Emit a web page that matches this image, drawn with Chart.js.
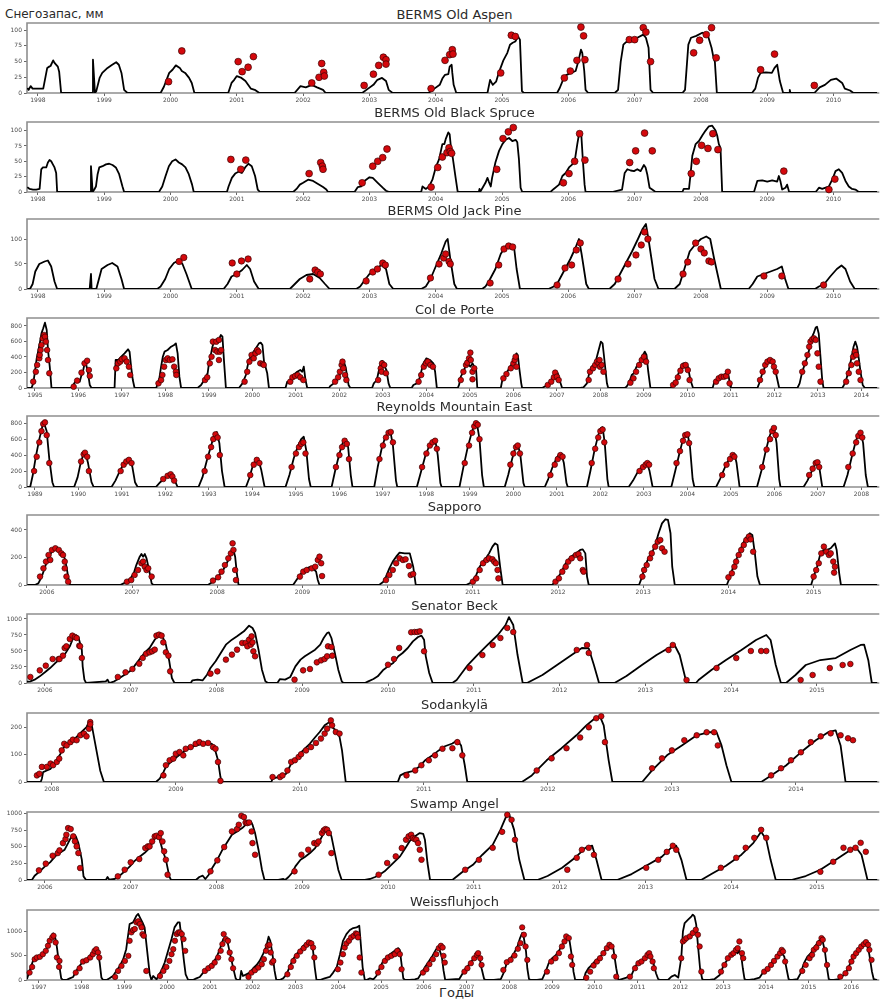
<!DOCTYPE html>
<html>
<head>
<meta charset="utf-8">
<script src="https://cdn.jsdelivr.net/npm/chart.js@4.4.0/dist/chart.umd.min.js"></script>
<style>
  body { margin: 0; background: #fff; }
  #wrap { position: relative; width: 882px; height: 1000px; overflow: hidden; font-family: "DejaVu Sans", sans-serif; background: #fff; }
  #wrap canvas { position: absolute; left: 0; }
  .ttl { position: absolute; left: 27px; width: 855px; text-align: center; font-size: 13px; line-height: 14px; color: #2a2a2a; }
  .lbl { position: absolute; font-size: 12px; line-height: 14px; color: #2a2a2a; }
</style>
</head>
<body>
<div id="wrap">
  <div class="lbl" style="left:5px;top:7px;">Снегозапас, мм</div>
  <div class="lbl" style="left:439px;top:986px;font-size:13px;">Годы</div>
</div>
<script>
// ---- tick labels ----
const bermsYears = [1998,1999,2000,2001,2002,2003,2004,2005,2006,2007,2008,2009,2010];
const colYears = [1995,1996,1997,1998,1999,2000,2001,2002,2003,2004,2005,2006,2007,2008,2009,2010,2011,2012,2013,2014];
const reynoldsYears = [1989,1990,1991,1992,1993,1994,1995,1996,1997,1998,1999,2000,2001,2002,2003,2004,2005,2006,2007,2008];
const sapporoYears = [2006,2007,2008,2009,2010,2011,2012,2013,2014,2015];
const coloradoYears = [2006,2007,2008,2009,2010,2011,2012,2013,2014,2015];
const sodankylaYears = [2008,2009,2010,2011,2012,2013,2014];
const weissYears = [1997,1998,1999,2000,2001,2002,2003,2004,2005,2006,2007,2008,2009,2010,2011,2012,2013,2014,2015,2016];
const ticks100 = [0,25,50,75,100];
const ticksJack = [0,50,100];
const ticks800 = [0,200,400,600,800];
const ticks400 = [0,200,400];
const ticks1000 = [0,250,500,750,1000];
const ticks200 = [0,100,200];
const ticksWeiss = [0,500,1000];

// ---- BERMS Old Aspen: simulated SWE (line) and snow survey (dots), mm ----
const aspenModel = [[1997.84,8],[1997.86,5],[1997.89,11],[1997.92,7],[1998.08,7],[1998.14,40],[1998.17,42],[1998.19,43],[1998.23,52],[1998.25,48],[1998.3,42],[1998.32,34],[1998.35,0],
[1998.82,0],[1998.83,53],[1998.86,0],[1998.88,3],[1998.93,24],[1998.97,32],[1999.05,40],[1999.12,45],[1999.18,49],[1999.22,45],[1999.26,32],[1999.3,5],[1999.35,0],
[1999.85,0],[1999.9,10],[1999.94,21],[1999.98,32],[2000.03,37],[2000.08,44],[2000.14,40],[2000.17,35],[2000.22,32],[2000.28,24],[2000.32,16],[2000.36,0],
[2000.87,0],[2000.92,16],[2000.96,21],[2001.0,27],[2001.07,24],[2001.13,19],[2001.17,13],[2001.21,7],[2001.27,5],[2001.34,0],
[2001.87,0],[2001.96,11],[2002.04,9],[2002.13,13],[2002.21,9],[2002.3,5],[2002.34,0],
[2002.89,0],[2002.98,7],[2003.06,13],[2003.12,21],[2003.19,24],[2003.25,19],[2003.29,5],[2003.35,0],
[2003.89,0],[2003.98,7],[2004.06,13],[2004.1,23],[2004.14,29],[2004.19,30],[2004.21,42],[2004.24,45],[2004.25,32],[2004.27,13],[2004.31,0],
[2004.78,0],[2004.82,21],[2004.86,13],[2004.91,18],[2004.95,32],[2005.02,52],[2005.08,64],[2005.12,77],[2005.16,80],[2005.2,82],[2005.24,90],[2005.27,85],[2005.3,3],[2005.33,0],
[2005.83,0],[2005.87,8],[2005.92,21],[2005.96,28],[2006.04,32],[2006.11,35],[2006.15,50],[2006.19,69],[2006.21,64],[2006.24,35],[2006.26,5],[2006.3,0],
[2006.7,0],[2006.75,5],[2006.79,50],[2006.83,77],[2006.87,81],[2006.96,83],[2007.04,88],[2007.13,93],[2007.17,88],[2007.21,72],[2007.24,5],[2007.28,0],
[2007.72,0],[2007.76,5],[2007.81,77],[2007.85,88],[2007.93,91],[2008.02,96],[2008.1,93],[2008.16,72],[2008.19,56],[2008.21,50],[2008.24,0],
[2008.77,0],[2008.82,7],[2008.86,24],[2008.9,32],[2008.98,33],[2009.07,32],[2009.11,40],[2009.15,45],[2009.19,19],[2009.24,0],[2009.33,0],[2009.34,5],[2009.35,0],
[2009.71,0],[2009.79,9],[2009.87,13],[2009.96,21],[2010.04,23],[2010.13,16],[2010.17,7],[2010.25,4],[2010.3,0],[2010.66,0]];
const aspenObs = [[1999.97,18],[2000.17,67],[2001.02,50],[2001.08,34],[2001.17,41],[2001.25,58],[2002.13,16],[2002.24,25],[2002.28,47],[2002.31,33],[2002.32,27],
[2002.92,12],[2003.06,30],[2003.14,44],[2003.21,57],[2003.25,53],[2003.25,46],[2003.93,7],[2004.14,52],[2004.21,61],[2004.25,69],[2004.26,62],
[2004.98,32],[2005.14,92],[2005.2,90],[2005.94,24],[2006.03,35],[2006.13,52],[2006.19,105],[2006.23,91],[2006.25,53],
[2006.92,85],[2007.0,85],[2007.13,104],[2007.17,97],[2007.24,50],[2007.89,64],[2007.98,84],[2008.08,93],[2008.16,104],[2008.23,56],[2008.9,37],[2009.11,62],[2009.71,12]];

// ---- BERMS Old Black Spruce ----
const spruceModel = [[1997.84,8],[1997.875,5],[1997.925,4],[1997.975,4],[1998.025,5],[1998.05,37],[1998.075,40],[1998.125,40],[1998.15,48],[1998.175,52],[1998.2,50],[1998.225,45],[1998.25,40],[1998.275,31],[1998.29,0],
[1998.79,0],[1998.8,42],[1998.825,0],[1998.85,4],[1998.875,9],[1998.9,29],[1998.925,40],[1998.975,42],[1999.025,45],[1999.075,46],[1999.125,44],[1999.175,40],[1999.225,29],[1999.275,9],[1999.3,0],
[1999.825,0],[1999.875,9],[1999.925,26],[1999.975,42],[2000.025,50],[2000.075,53],[2000.125,48],[2000.175,45],[2000.225,40],[2000.275,29],[2000.325,12],[2000.35,0],
[2000.85,0],[2000.875,9],[2000.925,23],[2000.975,30],[2001.025,33],[2001.075,31],[2001.125,40],[2001.175,46],[2001.225,42],[2001.275,26],[2001.315,4],[2001.35,0],
[2001.85,0],[2001.9,5],[2001.95,12],[2002.0,15],[2002.075,20],[2002.15,18],[2002.225,13],[2002.3,8],[2002.35,4],[2002.375,0],
[2002.775,0],[2002.825,8],[2002.875,9],[2002.925,18],[2003.0,24],[2003.05,23],[2003.125,15],[2003.2,7],[2003.25,2],[2003.3,0],
[2003.78,0],[2003.8,9],[2003.85,5],[2003.9,9],[2003.95,20],[2004.0,40],[2004.05,53],[2004.1,78],[2004.13,78],[2004.15,86],[2004.19,97],[2004.21,94],[2004.23,72],[2004.25,61],[2004.3,23],[2004.33,1],[2004.35,0],
[2004.65,0],[2004.66,5],[2004.67,0],[2004.75,15],[2004.78,23],[2004.8,17],[2004.83,9],[2004.85,23],[2004.9,48],[2004.955,67],[2005.005,78],[2005.055,85],[2005.105,88],[2005.155,83],[2005.205,85],[2005.23,81],[2005.255,53],[2005.28,7],[2005.305,0],
[2005.73,0],[2005.78,5],[2005.86,12],[2005.91,26],[2005.96,31],[2006.01,40],[2006.06,45],[2006.1,53],[2006.135,78],[2006.16,94],[2006.175,97],[2006.195,94],[2006.22,50],[2006.245,12],[2006.26,0],
[2006.66,0],[2006.81,4],[2006.85,31],[2006.89,37],[2006.94,35],[2006.99,34],[2007.04,37],[2007.09,34],[2007.14,44],[2007.165,40],[2007.19,29],[2007.225,7],[2007.265,4],[2007.315,0],
[2007.72,0],[2007.74,5],[2007.82,5],[2007.845,31],[2007.87,59],[2007.92,78],[2007.97,83],[2008.02,92],[2008.07,100],[2008.12,107],[2008.17,108],[2008.22,100],[2008.245,92],[2008.27,78],[2008.295,72],[2008.32,0],
[2008.8,0],[2008.825,9],[2008.85,18],[2008.925,19],[2009.0,17],[2009.075,19],[2009.15,17],[2009.175,26],[2009.2,17],[2009.225,4],[2009.275,7],[2009.3,12],[2009.33,0],
[2009.73,0],[2009.76,4],[2009.78,7],[2009.83,5],[2009.88,7],[2009.93,9],[2009.98,20],[2010.03,34],[2010.08,37],[2010.13,31],[2010.18,18],[2010.23,9],[2010.28,5],[2010.33,4],[2010.38,0],[2010.66,0]];
const spruceObs = [[2000.91,53],[2001.06,37],[2001.135,52],[2002.09,30],[2002.265,48],[2002.29,42],[2002.3,37],[2002.89,15],[2003.05,42],[2003.125,50],[2003.2,56],[2003.265,70],
[2003.93,8],[2004.03,40],[2004.1,57],[2004.17,64],[2004.2,72],[2004.22,66],[2004.24,63],[2004.92,37],[2005.015,87],[2005.095,98],[2005.17,105],
[2005.925,15],[2006.01,30],[2006.095,50],[2006.17,95],[2006.25,52],[2006.925,48],[2007.015,67],[2007.15,96],[2007.266,67],
[2007.854,30],[2007.93,50],[2008.01,76],[2008.106,71],[2008.18,95],[2008.256,69],[2009.25,34],[2009.93,4],[2010.02,21]];

// ---- BERMS Old Jack Pine ----
const jackModel = [[1997.84,0],[1997.88,0],[1997.92,10],[1997.96,35],[1998.02,50],[1998.1,55],[1998.15,57],[1998.2,45],[1998.25,15],[1998.29,0],
[1998.78,0],[1998.8,30],[1998.81,0],[1998.88,0],[1998.92,20],[1998.96,40],[1999.05,48],[1999.12,52],[1999.2,45],[1999.26,20],[1999.3,0],
[1999.8,0],[1999.85,5],[1999.92,20],[1999.98,40],[2000.05,52],[2000.12,57],[2000.18,50],[2000.24,30],[2000.32,0],
[2000.8,0],[2000.86,10],[2000.92,25],[2001.0,30],[2001.08,38],[2001.15,48],[2001.2,40],[2001.26,15],[2001.33,0],
[2001.8,0],[2001.86,8],[2001.95,20],[2002.05,28],[2002.15,30],[2002.25,22],[2002.33,10],[2002.4,0],
[2002.8,0],[2002.86,5],[2002.93,18],[2003.0,30],[2003.1,40],[2003.18,48],[2003.25,40],[2003.3,10],[2003.36,0],
[2003.78,0],[2003.85,5],[2003.92,20],[2004.0,45],[2004.08,70],[2004.15,95],[2004.18,100],[2004.22,60],[2004.28,10],[2004.32,0],
[2004.7,0],[2004.75,5],[2004.8,15],[2004.9,40],[2004.98,70],[2005.05,85],[2005.12,90],[2005.18,85],[2005.22,40],[2005.27,0],
[2005.7,0],[2005.78,5],[2005.85,15],[2005.95,40],[2006.03,60],[2006.1,80],[2006.16,100],[2006.2,70],[2006.27,10],[2006.31,0],
[2006.62,0],[2006.7,10],[2006.78,30],[2006.88,55],[2006.96,75],[2007.05,100],[2007.12,120],[2007.17,130],[2007.22,90],[2007.3,20],[2007.36,0],
[2007.6,0],[2007.68,10],[2007.75,40],[2007.83,75],[2007.92,90],[2008.0,100],[2008.08,105],[2008.14,100],[2008.2,60],[2008.3,0],
[2008.72,0],[2008.78,10],[2008.85,25],[2008.95,30],[2009.05,35],[2009.15,40],[2009.22,45],[2009.27,20],[2009.32,0],
[2009.72,0],[2009.78,5],[2009.86,10],[2009.95,25],[2010.05,40],[2010.12,47],[2010.18,40],[2010.25,15],[2010.32,0],[2010.66,0]];
const jackObs = [[2000.13,55],[2000.2,63],[2000.93,52],[2001.0,30],[2001.07,56],[2001.17,60],[2002.1,20],[2002.18,38],[2002.22,34],[2002.26,30],
[2002.95,16],[2003.05,34],[2003.12,40],[2003.2,52],[2003.24,48],[2003.92,22],[2004.05,50],[2004.12,62],[2004.15,70],[2004.2,55],[2004.22,50],
[2004.82,12],[2004.95,48],[2005.03,80],[2005.1,86],[2005.16,84],[2005.83,8],[2005.95,42],[2006.05,48],[2006.12,78],[2006.18,92],
[2006.75,20],[2006.9,50],[2007.02,68],[2007.1,88],[2007.15,114],[2007.2,100],[2007.73,30],[2007.8,54],[2007.92,92],[2008.0,80],[2008.05,72],[2008.12,56],[2008.16,54],
[2008.95,26],[2009.22,26],[2009.85,8]];

// ---- Col de Porte ----
const colModel = [[1994.82,0],[1994.92,0],[1994.96,60],[1995.0,210],[1995.04,383],[1995.08,490],[1995.11,576],[1995.15,705],[1995.19,770],[1995.23,843],[1995.27,748],[1995.3,490],[1995.34,275],[1995.38,0],
[1995.84,0],[1995.88,39],[1995.95,103],[1996.03,82],[1996.07,168],[1996.11,232],[1996.15,340],[1996.18,297],[1996.22,190],[1996.26,39],[1996.3,0],
[1996.83,0],[1996.855,361],[1996.91,361],[1996.985,404],[1997.06,447],[1997.14,499],[1997.175,469],[1997.21,275],[1997.25,103],[1997.29,0],
[1997.79,0],[1997.82,60],[1997.86,125],[1997.9,275],[1997.94,404],[1997.98,469],[1998.05,490],[1998.13,533],[1998.2,555],[1998.24,576],[1998.28,447],[1998.32,146],[1998.36,0],
[1998.74,0],[1998.82,39],[1998.89,103],[1998.97,190],[1999.0,318],[1999.05,447],[1999.08,533],[1999.12,598],[1999.2,620],[1999.24,640],[1999.275,684],[1999.31,662],[1999.35,318],[1999.39,0],
[1999.69,0],[1999.77,60],[1999.85,168],[1999.885,275],[1999.92,361],[2000.0,447],[2000.08,512],[2000.15,576],[2000.19,585],[2000.23,555],[2000.27,318],[2000.3,275],[2000.34,190],[2000.38,0],
[2000.76,0],[2000.8,82],[2000.84,60],[2000.88,125],[2000.95,168],[2001.03,210],[2001.1,232],[2001.145,210],[2001.18,275],[2001.22,103],[2001.26,0],
[2001.76,0],[2001.79,26],[2001.87,60],[2001.95,103],[2002.02,190],[2002.06,297],[2002.1,340],[2002.14,275],[2002.18,146],[2002.21,39],[2002.25,0],
[2002.75,0],[2002.79,60],[2002.86,103],[2002.9,210],[2002.96,340],[2002.99,350],[2003.04,275],[2003.08,232],[2003.13,60],[2003.17,0],
[2003.66,0],[2003.7,39],[2003.78,60],[2003.83,103],[2003.88,210],[2003.93,318],[2004.0,383],[2004.08,361],[2004.16,318],[2004.2,210],[2004.24,0],
[2004.72,0],[2004.75,39],[2004.79,146],[2004.85,210],[2004.91,297],[2004.94,318],[2005.01,275],[2005.06,318],[2005.1,275],[2005.14,254],[2005.17,0],
[2005.71,0],[2005.745,103],[2005.82,168],[2005.9,254],[2005.97,318],[2006.03,383],[2006.07,447],[2006.1,426],[2006.14,232],[2006.18,60],[2006.2,0],
[2006.66,0],[2006.74,26],[2006.81,60],[2006.87,103],[2006.93,168],[2006.96,210],[2007.02,190],[2007.06,103],[2007.12,0],
[2007.54,0],[2007.61,9],[2007.69,60],[2007.75,210],[2007.8,275],[2007.88,318],[2007.93,426],[2007.98,533],[2008.01,598],[2008.05,576],[2008.08,426],[2008.1,318],[2008.15,60],[2008.18,0],
[2008.56,0],[2008.6,17],[2008.66,69],[2008.72,168],[2008.77,190],[2008.83,275],[2008.91,340],[2008.98,426],[2009.02,469],[2009.06,426],[2009.1,210],[2009.15,0],
[2009.63,0],[2009.67,39],[2009.73,82],[2009.78,168],[2009.84,254],[2009.9,318],[2009.97,318],[2010.01,275],[2010.07,103],[2010.13,0],
[2010.58,0],[2010.62,82],[2010.66,103],[2010.72,146],[2010.78,168],[2010.85,146],[2010.91,224],[2010.95,146],[2010.98,39],[2011.0,0],
[2011.61,0],[2011.65,60],[2011.71,168],[2011.77,254],[2011.82,318],[2011.88,340],[2011.96,318],[2012.02,232],[2012.07,103],[2012.11,0],
[2012.53,0],[2012.58,60],[2012.64,210],[2012.72,340],[2012.79,470],[2012.85,640],[2012.9,700],[2012.95,780],[2012.98,790],[2013.02,700],[2013.06,400],[2013.1,100],[2013.13,0],
[2013.56,0],[2013.6,39],[2013.65,103],[2013.71,232],[2013.77,383],[2013.82,533],[2013.86,598],[2013.9,533],[2013.94,383],[2013.98,210],[2014.03,39],[2014.08,0],[2014.37,0]];
const colObs = [[1994.96,82],[1995.02,210],[1995.05,297],[1995.1,383],[1995.11,426],[1995.13,490],[1995.15,555],[1995.18,640],[1995.21,684],[1995.23,662],[1995.25,598],[1995.28,490],[1995.3,361],[1995.33,190],
[1995.89,17],[1995.97,95],[1996.07,198],[1996.14,318],[1996.2,352],[1996.24,232],[1996.26,155],
[1996.87,254],[1996.91,318],[1996.96,340],[1997.0,370],[1997.06,383],[1997.11,340],[1997.16,275],[1997.19,168],
[1997.84,60],[1997.9,103],[1997.93,168],[1997.97,275],[1998.01,361],[1998.05,383],[1998.1,361],[1998.16,370],[1998.2,275],[1998.24,210],[1998.25,168],
[1998.91,103],[1998.96,138],[1999.02,318],[1999.06,404],[1999.09,598],[1999.14,490],[1999.17,598],[1999.19,469],[1999.23,620],[1999.23,361],[1999.25,469],[1999.28,490],
[1999.82,82],[1999.88,210],[1999.93,340],[1999.98,426],[2000.03,383],[2000.07,447],[2000.11,490],[2000.14,469],[2000.18,318],[2000.24,310],[2000.26,297],
[2000.87,82],[2000.92,138],[2000.98,155],[2001.04,168],[2001.1,138],[2001.17,103],
[2001.9,82],[2001.97,138],[2002.01,210],[2002.05,297],[2002.07,340],[2002.09,254],[2002.13,168],[2002.16,103],
[2002.89,103],[2002.95,254],[2002.97,210],[2002.98,318],[2003.03,297],[2003.07,190],
[2003.82,82],[2003.88,168],[2003.94,275],[2003.99,318],[2004.03,340],[2004.09,297],[2004.15,275],
[2004.79,103],[2004.85,210],[2004.91,297],[2004.94,327],[2004.98,383],[2005.01,456],[2005.02,361],[2005.06,210],[2005.06,112],[2005.1,254],
[2005.77,125],[2005.84,180],[2005.94,254],[2006.0,318],[2006.03,361],[2006.05,404],[2006.07,275],
[2006.79,39],[2006.87,82],[2006.93,138],[2006.96,198],[2007.0,146],[2007.04,103],
[2007.73,103],[2007.76,210],[2007.83,254],[2007.88,297],[2007.92,340],[2007.96,318],[2007.98,361],[2007.99,275],[2008.03,297],[2008.07,210],
[2008.69,69],[2008.76,125],[2008.82,210],[2008.89,297],[2008.95,361],[2009.0,404],[2009.05,340],
[2009.67,39],[2009.73,69],[2009.78,138],[2009.84,224],[2009.9,284],[2009.96,297],[2010.01,232],[2010.05,103],
[2010.66,82],[2010.72,125],[2010.78,146],[2010.84,146],[2010.89,155],[2010.93,210],[2010.97,60],
[2011.67,103],[2011.73,210],[2011.79,297],[2011.84,340],[2011.9,361],[2011.96,340],[2011.99,275],[2012.03,210],
[2012.64,210],[2012.7,318],[2012.76,426],[2012.8,533],[2012.83,598],[2012.87,628],[2012.91,640],[2012.95,620],[2012.99,447],[2013.02,275],[2013.06,82],
[2013.65,82],[2013.71,190],[2013.77,297],[2013.81,404],[2013.85,469],[2013.88,426],[2013.9,318],[2013.94,210],[2013.98,103]];

// ---- Reynolds Mountain East ----
const reynoldsModel = [[1988.82,0],[1988.89,0],[1988.95,150],[1989.02,380],[1989.1,600],[1989.17,760],[1989.21,800],[1989.27,700],[1989.33,350],[1989.4,60],[1989.44,0],
[1989.9,0],[1989.98,120],[1990.05,300],[1990.12,420],[1990.16,430],[1990.22,300],[1990.3,60],[1990.35,0],
[1990.76,0],[1990.85,80],[1990.95,200],[1991.05,300],[1991.13,340],[1991.18,350],[1991.24,250],[1991.3,60],[1991.36,0],
[1991.78,0],[1991.88,60],[1991.98,110],[1992.08,150],[1992.14,160],[1992.2,100],[1992.28,0],
[1992.76,0],[1992.85,120],[1992.95,330],[1993.05,520],[1993.12,650],[1993.18,690],[1993.24,550],[1993.3,200],[1993.36,0],
[1993.85,0],[1993.92,100],[1994.0,250],[1994.08,340],[1994.13,355],[1994.2,220],[1994.28,0],
[1994.76,0],[1994.85,150],[1994.95,360],[1995.05,520],[1995.12,600],[1995.18,630],[1995.24,450],[1995.3,100],[1995.34,0],
[1995.82,0],[1995.9,200],[1996.0,420],[1996.08,560],[1996.15,600],[1996.2,500],[1996.26,150],[1996.3,0],
[1996.8,0],[1996.88,250],[1996.97,480],[1997.05,620],[1997.12,690],[1997.17,700],[1997.23,520],[1997.3,80],[1997.33,0],
[1997.78,0],[1997.88,200],[1997.98,400],[1998.07,520],[1998.14,580],[1998.2,600],[1998.26,400],[1998.32,50],[1998.35,0],
[1998.76,0],[1998.85,250],[1998.95,500],[1999.05,700],[1999.12,790],[1999.16,800],[1999.22,600],[1999.28,150],[1999.32,0],
[1999.8,0],[1999.88,150],[1999.97,350],[2000.05,500],[2000.1,540],[2000.16,400],[2000.23,50],[2000.26,0],
[2000.72,0],[2000.8,100],[2000.9,250],[2000.98,350],[2001.05,410],[2001.1,420],[2001.16,300],[2001.22,50],[2001.25,0],
[2001.69,0],[2001.77,200],[2001.86,450],[2001.95,650],[2002.01,740],[2002.05,750],[2002.1,550],[2002.16,100],[2002.19,0],
[2002.65,0],[2002.75,80],[2002.85,180],[2002.95,250],[2003.02,290],[2003.07,300],[2003.13,200],[2003.2,0],
[2003.63,0],[2003.72,200],[2003.82,430],[2003.9,600],[2003.96,670],[2004.0,680],[2004.06,500],[2004.12,100],[2004.16,0],
[2004.66,0],[2004.75,100],[2004.85,230],[2004.95,340],[2005.03,410],[2005.08,420],[2005.13,300],[2005.2,0],
[2005.6,0],[2005.7,200],[2005.8,450],[2005.88,620],[2005.95,730],[2005.99,750],[2006.05,550],[2006.11,100],[2006.14,0],
[2006.67,0],[2006.76,80],[2006.86,200],[2006.94,290],[2006.99,320],[2007.04,220],[2007.1,0],
[2007.59,0],[2007.68,150],[2007.78,380],[2007.87,570],[2007.94,680],[2007.98,700],[2008.04,550],[2008.1,150],[2008.15,0],[2008.37,0]];
const reynoldsObs = [[1988.98,200],[1989.04,380],[1989.1,560],[1989.15,700],[1989.19,790],[1989.23,810],[1989.27,650],[1989.33,300],
[1990.06,320],[1990.12,410],[1990.15,430],[1990.2,380],[1990.24,200],
[1990.97,200],[1991.04,280],[1991.1,320],[1991.16,340],[1991.22,300],
[1991.95,100],[1992.05,140],[1992.12,160],[1992.16,130],[1992.2,80],
[1992.9,200],[1992.98,380],[1993.05,500],[1993.1,600],[1993.15,660],[1993.2,620],[1993.25,400],
[1993.95,150],[1994.03,280],[1994.1,340],[1994.16,300],
[1994.9,250],[1995.0,420],[1995.07,500],[1995.12,540],[1995.17,560],[1995.22,420],
[1995.92,250],[1996.0,400],[1996.06,500],[1996.12,580],[1996.17,540],[1996.22,350],
[1996.92,350],[1997.0,520],[1997.07,620],[1997.13,680],[1997.18,690],[1997.23,560],
[1997.9,250],[1998.0,420],[1998.08,520],[1998.14,560],[1998.2,580],[1998.24,480],
[1998.88,300],[1998.98,520],[1999.05,680],[1999.1,760],[1999.14,800],[1999.18,780],[1999.22,600],
[1999.93,280],[2000.0,420],[2000.06,500],[2000.1,520],[2000.15,420],
[2000.85,150],[2000.95,280],[2001.02,350],[2001.08,400],[2001.13,380],
[2001.8,300],[2001.88,480],[2001.95,620],[2002.0,700],[2002.05,720],[2002.09,560],
[2002.9,200],[2002.98,250],[2003.04,280],[2003.08,300],[2003.12,280],
[2003.75,300],[2003.83,450],[2003.9,580],[2003.95,650],[2004.0,660],[2004.04,550],
[2004.8,150],[2004.9,280],[2004.98,350],[2005.04,400],[2005.08,380],
[2005.72,250],[2005.82,470],[2005.9,600],[2005.95,700],[2005.99,740],[2006.03,650],
[2006.8,150],[2006.88,230],[2006.95,300],[2006.99,310],[2007.03,250],
[2007.7,250],[2007.8,420],[2007.88,560],[2007.93,640],[2007.98,680],[2008.02,620]];

// ---- Sapporo ----
const sapporoModel = [[2005.77,0],[2005.86,0],[2005.9,12],[2005.94,61],[2005.98,133],[2006.02,206],[2006.06,242],[2006.1,259],[2006.14,255],[2006.18,230],[2006.21,194],[2006.23,133],[2006.25,61],[2006.27,0],
[2006.86,0],[2006.92,17],[2006.98,48],[2007.02,85],[2007.05,145],[2007.09,206],[2007.11,225],[2007.13,206],[2007.15,225],[2007.17,194],[2007.2,109],[2007.23,12],[2007.25,0],
[2007.89,0],[2007.95,24],[2008.01,61],[2008.07,109],[2008.13,182],[2008.17,242],[2008.19,255],[2008.21,206],[2008.23,85],[2008.25,0],
[2008.89,0],[2008.93,36],[2008.97,73],[2009.01,104],[2009.05,121],[2009.09,133],[2009.125,121],[2009.16,97],[2009.18,36],[2009.2,0],
[2009.9,0],[2009.95,24],[2009.98,61],[2010.02,121],[2010.06,170],[2010.1,206],[2010.14,235],[2010.2,230],[2010.26,230],[2010.3,133],[2010.33,0],
[2010.92,0],[2010.98,17],[2011.04,73],[2011.08,133],[2011.12,170],[2011.16,201],[2011.19,230],[2011.23,279],[2011.26,303],[2011.29,291],[2011.32,133],[2011.35,0],
[2011.93,0],[2011.97,24],[2012.03,85],[2012.09,158],[2012.15,206],[2012.21,230],[2012.26,255],[2012.29,259],[2012.32,230],[2012.34,61],[2012.36,0],
[2012.95,0],[2012.98,48],[2013.02,133],[2013.06,194],[2013.1,230],[2013.14,291],[2013.18,376],[2013.22,448],[2013.26,478],[2013.29,473],[2013.32,376],[2013.34,133],[2013.37,0],
[2013.98,0],[2014.02,61],[2014.05,121],[2014.09,182],[2014.13,242],[2014.17,303],[2014.21,347],[2014.25,376],[2014.28,364],[2014.31,230],[2014.34,61],[2014.37,0],
[2014.97,0],[2015.0,61],[2015.04,133],[2015.08,230],[2015.12,255],[2015.16,255],[2015.2,267],[2015.25,303],[2015.27,255],[2015.3,85],[2015.32,0],[2015.75,0]];
const sapporoObs = [[2005.92,61],[2005.96,121],[2005.99,170],[2006.02,218],[2006.04,182],[2006.06,255],[2006.1,267],[2006.14,255],[2006.17,230],[2006.19,218],[2006.21,170],[2006.21,121],[2006.23,61],[2006.25,24],
[2006.94,24],[2006.99,36],[2007.03,73],[2007.07,109],[2007.11,158],[2007.13,170],[2007.15,133],[2007.17,109],[2007.19,121],[2007.23,61],
[2007.95,32],[2008.01,56],[2008.05,97],[2008.09,145],[2008.13,194],[2008.16,230],[2008.18,303],[2008.19,255],[2008.21,109],[2008.22,36],
[2008.97,61],[2009.01,97],[2009.05,109],[2009.11,121],[2009.15,133],[2009.18,182],[2009.2,206],[2009.22,158],[2009.23,65],
[2009.98,36],[2010.02,73],[2010.06,109],[2010.1,158],[2010.14,194],[2010.18,182],[2010.21,187],[2010.25,138],[2010.27,73],[2010.3,80],
[2011.0,24],[2011.04,48],[2011.08,109],[2011.12,158],[2011.16,182],[2011.19,194],[2011.23,187],[2011.25,170],[2011.27,158],[2011.29,109],[2011.3,48],
[2011.97,24],[2012.01,48],[2012.05,97],[2012.09,133],[2012.12,170],[2012.16,194],[2012.21,218],[2012.24,225],[2012.26,194],[2012.29,109],[2012.3,97],
[2012.99,61],[2013.01,109],[2013.04,145],[2013.08,194],[2013.1,230],[2013.14,279],[2013.17,315],[2013.2,327],[2013.22,267],[2013.25,242],
[2014.0,56],[2014.04,85],[2014.07,133],[2014.09,170],[2014.12,218],[2014.15,255],[2014.18,291],[2014.21,327],[2014.24,352],[2014.26,332],[2014.29,242],
[2015.0,61],[2015.03,109],[2015.06,158],[2015.09,230],[2015.12,279],[2015.15,242],[2015.18,218],[2015.2,230],[2015.23,170],[2015.24,90],[2015.25,133]];

// ---- Senator Beck ----
const senatorModel = [[2005.79,20],[2005.83,26],[2005.88,52],[2005.94,104],[2006.0,167],[2006.06,234],[2006.12,312],[2006.17,365],[2006.23,443],[2006.29,573],[2006.33,703],[2006.36,740],[2006.39,719],[2006.43,521],[2006.44,260],[2006.46,52],[2006.48,0],
[2006.71,26],[2006.73,52],[2006.75,0],[2006.81,26],[2006.87,78],[2006.93,130],[2006.99,182],[2007.04,260],[2007.1,365],[2007.16,469],[2007.22,547],[2007.28,677],[2007.33,740],[2007.37,729],[2007.41,599],[2007.45,339],[2007.48,78],[2007.51,0],
[2007.7,0],[2007.72,42],[2007.78,52],[2007.84,42],[2007.89,130],[2007.93,234],[2007.99,339],[2008.05,469],[2008.11,599],[2008.18,677],[2008.24,729],[2008.32,807],[2008.38,896],[2008.42,859],[2008.45,781],[2008.49,521],[2008.53,208],[2008.57,26],[2008.6,0],
[2008.71,0],[2008.74,62],[2008.8,52],[2008.86,94],[2008.92,260],[2008.98,365],[2009.03,417],[2009.09,469],[2009.15,521],[2009.21,599],[2009.25,703],[2009.29,781],[2009.31,792],[2009.34,703],[2009.38,469],[2009.42,208],[2009.46,26],[2009.48,0],
[2009.73,0],[2009.77,26],[2009.83,62],[2009.88,104],[2009.94,198],[2010.0,260],[2010.06,313],[2010.12,417],[2010.17,469],[2010.23,547],[2010.29,651],[2010.35,719],[2010.39,740],[2010.42,677],[2010.44,417],[2010.48,156],[2010.52,0],
[2010.75,0],[2010.8,47],[2010.93,280],[2011.04,437],[2011.16,594],[2011.28,750],[2011.37,906],[2011.41,1030],[2011.46,906],[2011.51,437],[2011.57,0],
[2011.62,0],[2011.8,125],[2011.97,281],[2012.14,437],[2012.26,547],[2012.34,540],[2012.4,281],[2012.46,0],
[2012.64,0],[2012.78,109],[2012.96,281],[2013.13,437],[2013.27,547],[2013.34,594],[2013.4,437],[2013.48,0],
[2013.59,0],[2013.62,47],[2013.77,203],[2013.94,359],[2014.12,516],[2014.29,672],[2014.41,750],[2014.46,672],[2014.52,281],[2014.58,0],
[2014.64,0],[2014.75,125],[2014.87,281],[2015.04,359],[2015.22,390],[2015.39,516],[2015.51,594],[2015.55,600],[2015.6,350],[2015.64,0],[2015.71,0]];
const senatorObs = [[2005.83,94],[2005.94,198],[2006.01,271],[2006.09,375],[2006.16,375],[2006.17,375],[2006.21,427],[2006.23,547],[2006.25,573],[2006.29,688],[2006.32,740],[2006.35,719],[2006.37,703],[2006.4,583],[2006.41,573],[2006.43,391],
[2006.85,94],[2006.94,167],[2007.02,219],[2007.1,302],[2007.14,391],[2007.18,458],[2007.22,479],[2007.25,495],[2007.28,521],[2007.3,740],[2007.33,755],[2007.36,740],[2007.38,635],[2007.41,479],[2007.44,427],[2007.46,182],
[2007.93,146],[2008.01,182],[2008.11,365],[2008.18,443],[2008.24,521],[2008.3,625],[2008.34,625],[2008.36,573],[2008.38,677],[2008.4,599],[2008.41,729],[2008.42,635],[2008.43,495],[2008.45,417],
[2008.91,52],[2009.01,198],[2009.09,219],[2009.17,323],[2009.22,354],[2009.26,375],[2009.29,417],[2009.3,573],[2009.34,563],[2009.35,427],
[2010.0,286],[2010.07,375],[2010.13,547],[2010.27,792],[2010.31,797],[2010.34,797],[2010.37,807],[2010.42,495],
[2010.95,234],[2011.1,437],[2011.22,594],[2011.31,703],[2011.39,860],[2011.46,797],
[2012.2,516],[2012.32,594],[2012.34,469],[2013.27,516],[2013.32,594],
[2013.48,47],[2013.83,234],[2014.06,390],[2014.23,500],[2014.35,500],[2014.41,500],
[2014.81,47],[2014.95,125],[2015.15,234],[2015.3,281],[2015.39,297]];

// ---- Sodankylä ----
const sodankylaModel = [[2007.8,0],[2007.91,0],[2007.92,12],[2007.93,36],[2007.96,42],[2007.99,48],[2008.01,61],[2008.04,79],[2008.07,103],[2008.09,121],[2008.12,139],[2008.16,145],[2008.2,164],[2008.24,182],[2008.28,200],[2008.3,218],[2008.32,212],[2008.33,188],[2008.36,115],[2008.39,42],[2008.42,0],
[2008.84,0],[2008.87,12],[2008.9,36],[2008.92,55],[2008.95,69],[2008.98,79],[2009.0,88],[2009.04,103],[2009.08,115],[2009.12,127],[2009.17,133],[2009.21,139],[2009.25,142],[2009.29,139],[2009.31,127],[2009.34,79],[2009.36,18],[2009.37,0],
[2009.77,0],[2009.78,12],[2009.81,16],[2009.85,21],[2009.89,30],[2009.93,67],[2009.97,85],[2010.0,103],[2010.04,121],[2010.08,139],[2010.12,161],[2010.16,182],[2010.2,206],[2010.24,218],[2010.26,200],[2010.29,188],[2010.32,164],[2010.34,115],[2010.37,0],
[2010.79,0],[2010.81,24],[2010.85,33],[2010.91,40],[2010.96,55],[2011.01,79],[2011.07,97],[2011.12,115],[2011.17,130],[2011.23,140],[2011.27,152],[2011.3,133],[2011.33,60],[2011.35,0],
[2011.79,0],[2011.87,24],[2011.99,79],[2012.11,123],[2012.23,170],[2012.31,206],[2012.38,232],[2012.42,239],[2012.45,206],[2012.49,79],[2012.52,0],
[2012.76,0],[2012.84,42],[2012.96,97],[2013.08,133],[2013.2,170],[2013.3,181],[2013.36,181],[2013.4,133],[2013.44,60],[2013.48,0],
[2013.72,0],[2013.8,24],[2013.92,60],[2014.04,108],[2014.16,152],[2014.26,181],[2014.32,188],[2014.36,133],[2014.4,0],[2014.66,0]];
const sodankylaObs = [[2007.88,24],[2007.9,30],[2007.92,55],[2007.96,55],[2007.99,67],[2008.01,61],[2008.04,73],[2008.06,85],[2008.08,115],[2008.1,139],[2008.12,133],[2008.15,145],[2008.17,154],[2008.2,152],[2008.23,170],[2008.26,176],[2008.28,166],[2008.3,194],[2008.31,218],[2008.31,210],
[2008.9,24],[2008.92,61],[2008.95,79],[2008.98,85],[2009.0,103],[2009.03,109],[2009.06,97],[2009.08,121],[2009.12,127],[2009.16,139],[2009.19,145],[2009.22,139],[2009.26,142],[2009.3,127],[2009.32,121],[2009.34,73],[2009.36,4],
[2009.78,18],[2009.84,18],[2009.86,24],[2009.9,42],[2009.93,73],[2009.96,79],[2009.99,91],[2010.01,101],[2010.05,115],[2010.09,127],[2010.13,142],[2010.17,158],[2010.2,176],[2010.22,194],[2010.25,224],[2010.26,206],[2010.29,182],[2010.32,176],
[2010.86,24],[2010.93,42],[2010.98,61],[2011.04,79],[2011.09,97],[2011.15,121],[2011.23,123],[2011.27,145],[2011.31,97],
[2011.91,42],[2012.03,86],[2012.15,123],[2012.26,162],[2012.33,199],[2012.39,232],[2012.43,239],[2012.46,145],
[2012.84,50],[2012.92,86],[2013.0,115],[2013.1,152],[2013.2,170],[2013.28,181],[2013.34,181],[2013.37,133],
[2013.8,24],[2013.88,50],[2013.96,79],[2014.04,108],[2014.12,145],[2014.2,166],[2014.28,177],[2014.36,170],[2014.42,159],[2014.46,152]];

// ---- Swamp Angel ----
const swampModel = [[2005.79,0],[2005.85,4],[2005.88,65],[2005.94,131],[2006.0,206],[2006.06,267],[2006.12,357],[2006.17,407],[2006.23,458],[2006.27,558],[2006.31,659],[2006.34,684],[2006.36,659],[2006.39,558],[2006.43,307],[2006.45,55],[2006.48,0],
[2006.71,0],[2006.73,45],[2006.75,5],[2006.81,15],[2006.87,65],[2006.93,131],[2006.99,206],[2007.04,282],[2007.1,347],[2007.16,407],[2007.22,483],[2007.26,583],[2007.29,659],[2007.33,649],[2007.37,458],[2007.41,307],[2007.45,55],[2007.47,0],
[2007.76,0],[2007.8,45],[2007.84,65],[2007.87,15],[2007.91,80],[2007.95,181],[2008.01,307],[2008.07,458],[2008.13,583],[2008.18,684],[2008.24,734],[2008.3,785],[2008.36,860],[2008.4,885],[2008.42,835],[2008.45,709],[2008.49,458],[2008.53,156],[2008.56,0],
[2008.72,0],[2008.78,15],[2008.8,0],[2008.84,45],[2008.88,106],[2008.92,206],[2008.98,307],[2009.03,347],[2009.09,407],[2009.15,483],[2009.21,609],[2009.25,709],[2009.29,760],[2009.31,750],[2009.34,659],[2009.38,407],[2009.42,156],[2009.46,0],
[2009.73,0],[2009.79,15],[2009.85,45],[2009.9,80],[2009.96,131],[2010.02,206],[2010.08,282],[2010.14,357],[2010.19,458],[2010.25,583],[2010.31,659],[2010.37,709],[2010.41,699],[2010.43,609],[2010.46,257],[2010.49,0],
[2010.75,0],[2010.87,125],[2010.99,230],[2011.1,382],[2011.22,532],[2011.31,758],[2011.37,939],[2011.41,1000],[2011.47,758],[2011.53,305],[2011.59,0],
[2011.74,0],[2011.86,60],[2012.03,185],[2012.18,336],[2012.3,487],[2012.38,518],[2012.43,305],[2012.49,0],
[2012.67,0],[2012.84,90],[2013.01,215],[2013.19,350],[2013.3,487],[2013.36,518],[2013.42,305],[2013.48,0],
[2013.65,0],[2013.77,90],[2013.94,215],[2014.12,382],[2014.26,562],[2014.35,728],[2014.41,607],[2014.46,305],[2014.52,0],
[2014.7,0],[2014.87,60],[2015.04,155],[2015.22,305],[2015.36,427],[2015.45,502],[2015.52,381],[2015.59,0],[2015.71,0]];
const swampObs = [[2005.93,146],[2006.01,247],[2006.09,367],[2006.15,407],[2006.17,448],[2006.21,558],[2006.24,619],[2006.25,684],[2006.27,785],[2006.3,770],[2006.33,659],[2006.35,584],[2006.37,508],[2006.39,407],[2006.41,181],
[2006.85,55],[2006.93,156],[2007.0,267],[2007.1,317],[2007.17,483],[2007.2,508],[2007.22,508],[2007.25,583],[2007.28,659],[2007.3,669],[2007.33,649],[2007.35,709],[2007.37,583],[2007.39,433],[2007.41,307],[2007.43,80],
[2007.93,131],[2008.01,297],[2008.09,498],[2008.18,734],[2008.24,770],[2008.26,835],[2008.29,971],[2008.32,951],[2008.34,870],[2008.36,860],[2008.38,870],[2008.41,734],[2008.42,558],[2008.45,382],
[2008.91,131],[2008.99,382],[2009.07,458],[2009.14,558],[2009.17,548],[2009.19,583],[2009.23,709],[2009.25,750],[2009.27,770],[2009.29,760],[2009.31,709],[2009.34,407],
[2009.89,80],[2009.99,257],[2010.09,357],[2010.16,483],[2010.21,609],[2010.24,659],[2010.27,684],[2010.29,634],[2010.31,619],[2010.33,609],[2010.35,558],[2010.37,458],[2010.39,307],
[2010.9,155],[2011.06,305],[2011.22,487],[2011.33,728],[2011.39,985],[2011.44,910],[2011.48,607],
[2012.09,155],[2012.2,336],[2012.26,457],[2012.34,487],[2012.4,381],
[2013.01,185],[2013.15,305],[2013.25,425],[2013.32,518],[2013.36,457],
[2013.88,185],[2014.06,336],[2014.17,487],[2014.27,637],[2014.35,758],[2014.41,637],
[2015.04,125],[2015.19,275],[2015.31,487],[2015.39,457],[2015.45,487],[2015.51,562],[2015.57,427]];

// ---- Weissfluhjoch ----
const weissModel = [[1996.72,20],[1996.78,185],[1996.86,390],[1996.94,459],[1997.02,493],[1997.09,527],[1997.17,630],[1997.25,801],[1997.33,952],[1997.37,904],[1997.41,733],[1997.47,322],[1997.52,34],[1997.56,0],
[1997.64,0],[1997.72,34],[1997.8,62],[1997.87,185],[1997.95,288],[1998.03,377],[1998.11,425],[1998.19,493],[1998.26,582],[1998.32,630],[1998.37,596],[1998.42,356],[1998.46,48],[1998.5,0],
[1998.58,0],[1998.65,34],[1998.73,82],[1998.81,185],[1998.89,288],[1998.97,425],[1999.04,630],[1999.12,1144],[1999.2,1178],[1999.28,1315],[1999.32,1349],[1999.36,1281],[1999.42,1178],[1999.47,1075],[1999.53,596],[1999.59,116],[1999.63,0],
[1999.67,82],[1999.75,14],[1999.81,116],[1999.86,185],[1999.94,356],[2000.02,596],[2000.1,836],[2000.17,1075],[2000.25,1178],[2000.29,1178],[2000.33,870],[2000.39,390],[2000.43,116],[2000.49,0],
[2000.6,0],[2000.68,34],[2000.76,62],[2000.84,151],[2000.92,219],[2000.99,288],[2001.07,356],[2001.15,459],[2001.23,630],[2001.31,836],[2001.37,870],[2001.42,733],[2001.48,493],[2001.54,253],[2001.6,34],[2001.63,0],
[2001.7,0],[2001.73,185],[2001.77,82],[2001.85,116],[2001.93,151],[2002.01,240],[2002.09,308],[2002.16,390],[2002.24,527],[2002.32,699],[2002.37,884],[2002.41,801],[2002.46,527],[2002.51,185],[2002.55,0],
[2002.63,0],[2002.71,34],[2002.79,116],[2002.87,288],[2002.94,425],[2003.02,527],[2003.1,596],[2003.18,699],[2003.26,747],[2003.33,801],[2003.37,788],[2003.41,596],[2003.45,253],[2003.49,0],
[2003.57,0],[2003.68,34],[2003.8,62],[2003.88,151],[2003.96,253],[2004.04,527],[2004.11,801],[2004.19,938],[2004.27,1021],[2004.35,1062],[2004.43,1075],[2004.49,1110],[2004.52,801],[2004.57,253],[2004.62,0],
[2004.66,0],[2004.74,34],[2004.82,14],[2004.89,82],[2004.97,253],[2005.05,390],[2005.13,459],[2005.21,527],[2005.32,596],[2005.4,651],[2005.44,610],[2005.48,322],[2005.52,34],[2005.56,0],
[2005.67,0],[2005.79,14],[2005.87,34],[2005.95,151],[2006.02,253],[2006.1,356],[2006.2,493],[2006.29,630],[2006.36,630],[2006.42,480],[2006.46,200],[2006.5,0],
[2006.83,20],[2006.91,137],[2006.98,240],[2007.06,322],[2007.14,411],[2007.22,479],[2007.26,514],[2007.3,479],[2007.35,240],[2007.41,20],[2007.45,0],
[2007.64,0],[2007.8,20],[2007.88,171],[2007.95,377],[2008.03,445],[2008.11,548],[2008.19,685],[2008.25,856],[2008.3,959],[2008.34,856],[2008.39,582],[2008.42,240],[2008.46,20],[2008.5,0],
[2008.65,0],[2008.77,20],[2008.85,171],[2008.92,342],[2009.0,445],[2009.08,500],[2009.16,596],[2009.23,719],[2009.31,788],[2009.37,856],[2009.41,788],[2009.47,445],[2009.5,171],[2009.54,0],
[2009.74,0],[2009.78,137],[2009.85,240],[2009.93,308],[2010.01,390],[2010.09,445],[2010.16,514],[2010.24,616],[2010.32,719],[2010.37,733],[2010.43,651],[2010.5,240],[2010.55,0],
[2010.63,20],[2010.74,48],[2010.86,103],[2010.94,274],[2011.02,363],[2011.09,390],[2011.17,445],[2011.25,514],[2011.3,479],[2011.37,342],[2011.43,137],[2011.48,20],[2011.52,0],
[2011.71,0],[2011.79,68],[2011.87,103],[2011.95,48],[2012.02,445],[2012.06,993],[2012.1,1164],[2012.18,1233],[2012.26,1301],[2012.29,1336],[2012.33,1301],[2012.37,1130],[2012.41,719],[2012.46,240],[2012.51,20],[2012.54,0],
[2012.68,0],[2012.8,20],[2012.92,103],[2013.0,274],[2013.07,377],[2013.15,479],[2013.23,514],[2013.29,582],[2013.34,548],[2013.38,596],[2013.42,514],[2013.46,240],[2013.5,20],[2013.54,0],
[2013.61,0],[2013.73,20],[2013.85,48],[2013.92,137],[2014.0,205],[2014.08,274],[2014.15,377],[2014.23,445],[2014.31,514],[2014.37,548],[2014.43,479],[2014.48,240],[2014.53,20],[2014.56,0],
[2014.62,0],[2014.74,20],[2014.81,137],[2014.89,342],[2014.97,479],[2015.05,548],[2015.12,651],[2015.2,753],[2015.28,842],[2015.32,822],[2015.38,582],[2015.43,240],[2015.47,20],[2015.51,0],
[2015.59,0],[2015.71,20],[2015.78,68],[2015.86,137],[2015.94,274],[2016.02,445],[2016.09,527],[2016.17,596],[2016.25,685],[2016.33,753],[2016.37,719],[2016.42,514],[2016.48,171],[2016.52,20],[2016.61,0]];
const weissObs = [[1996.78,151],[1996.84,267],[1996.9,425],[1996.95,459],[1997.02,473],[1997.09,527],[1997.16,596],[1997.21,699],[1997.25,801],[1997.31,870],[1997.34,904],[1997.39,767],[1997.42,459],[1997.47,267],[1997.48,390],
[1997.86,151],[1997.95,240],[1998.03,377],[1998.11,404],[1998.2,459],[1998.26,527],[1998.3,596],[1998.34,630],[1998.38,562],[1998.41,459],
[1998.78,62],[1998.85,185],[1998.93,288],[1999.01,390],[1999.09,493],[1999.12,801],[1999.16,973],[1999.2,1021],[1999.24,1041],[1999.28,1178],[1999.32,1199],[1999.36,1144],[1999.4,1075],[1999.42,938],[1999.45,904],[1999.51,185],
[1999.83,82],[1999.91,185],[1999.98,267],[2000.05,390],[2000.1,527],[2000.14,630],[2000.18,801],[2000.22,938],[2000.26,973],[2000.3,973],[2000.34,938],[2000.38,836],[2000.42,596],
[2000.88,185],[2000.96,240],[2001.04,288],[2001.11,356],[2001.19,459],[2001.25,596],[2001.29,733],[2001.32,938],[2001.37,836],[2001.42,801],[2001.46,562],[2001.5,425],[2001.54,240],
[2001.9,62],[2001.97,151],[2002.05,199],[2002.13,253],[2002.21,322],[2002.26,425],[2002.31,596],[2002.35,699],[2002.39,719],[2002.42,562],[2002.45,356],[2002.48,390],
[2002.81,116],[2002.89,267],[2002.95,390],[2003.03,493],[2003.11,582],[2003.19,651],[2003.26,719],[2003.31,767],[2003.37,747],[2003.41,664],[2003.44,459],
[2003.99,219],[2004.05,356],[2004.11,527],[2004.15,664],[2004.19,747],[2004.25,801],[2004.3,870],[2004.36,904],[2004.41,952],[2004.44,938],[2004.46,870],[2004.5,459],[2004.54,151],
[2004.93,151],[2005.01,267],[2005.09,390],[2005.16,459],[2005.24,493],[2005.32,527],[2005.38,596],[2005.44,527],[2005.48,219],
[2005.98,151],[2006.06,219],[2006.13,322],[2006.21,425],[2006.29,527],[2006.35,651],[2006.4,699],[2006.44,664],[2006.46,493],[2006.49,356],
[2006.95,171],[2007.02,240],[2007.1,342],[2007.18,445],[2007.24,514],[2007.27,548],[2007.32,445],[2007.35,308],
[2007.86,205],[2007.94,363],[2008.03,411],[2008.12,500],[2008.2,637],[2008.26,753],[2008.3,1075],[2008.34,925],[2008.38,685],[2008.42,411],
[2008.88,171],[2008.98,377],[2009.08,445],[2009.16,548],[2009.23,685],[2009.29,788],[2009.33,890],[2009.39,856],[2009.44,479],[2009.47,308],
[2009.8,48],[2009.89,171],[2009.97,295],[2010.05,377],[2010.12,445],[2010.2,548],[2010.28,651],[2010.34,719],[2010.39,685],[2010.45,479],[2010.5,68],
[2010.82,68],[2010.94,240],[2011.02,342],[2011.09,377],[2011.17,445],[2011.23,514],[2011.27,548],[2011.3,479],[2011.35,377],[2011.38,240],
[2012.02,445],[2012.06,788],[2012.1,822],[2012.14,856],[2012.22,890],[2012.29,959],[2012.36,1027],[2012.41,925],[2012.45,685],[2012.49,171],
[2012.95,171],[2013.03,308],[2013.11,445],[2013.19,514],[2013.24,548],[2013.3,616],[2013.34,651],[2013.38,788],[2013.44,548],[2013.47,445],
[2013.96,171],[2014.04,226],[2014.12,308],[2014.19,390],[2014.27,479],[2014.33,548],[2014.37,616],[2014.4,582],[2014.45,377],
[2014.85,185],[2014.93,308],[2015.02,445],[2015.08,514],[2015.12,616],[2015.18,664],[2015.24,753],[2015.3,856],[2015.33,822],[2015.38,616],[2015.43,308],
[2015.74,68],[2015.86,137],[2015.94,240],[2016.0,377],[2016.05,479],[2016.11,548],[2016.17,616],[2016.23,685],[2016.29,733],[2016.34,774],[2016.39,719],[2016.42,616],[2016.47,411]];

// ---- panel layout ----
const panels = [
  { title: 'BERMS Old Aspen',        model: aspenModel,     obs: aspenObs,     years: bermsYears,     yTicks: ticks100,   top: 22.5, h: 69.5, xMin: 1997.835, xMax: 2010.66,  yMax: 111.5, r: 3.4, ty: 8 },
  { title: 'BERMS Old Black Spruce', model: spruceModel,    obs: spruceObs,    years: bermsYears,     yTicks: ticks100,   top: 121.5, h: 69.5, xMin: 1997.835, xMax: 2010.66, yMax: 114,   r: 3.4, ty: 106 },
  { title: 'BERMS Old Jack Pine',    model: jackModel,      obs: jackObs,      years: bermsYears,     yTicks: ticksJack,  top: 219, h: 70,   xMin: 1997.835, xMax: 2010.66,  yMax: 140,   r: 3.2, ty: 204 },
  { title: 'Col de Porte',           model: colModel,       obs: colObs,       years: colYears,       yTicks: ticks800,   top: 318, h: 70,   xMin: 1994.817, xMax: 2014.366, yMax: 903,   r: 2.8, ty: 303 },
  { title: 'Reynolds Mountain East', model: reynoldsModel,  obs: reynoldsObs,  years: reynoldsYears,  yTicks: ticks800,   top: 416, h: 71,   xMin: 1988.817, xMax: 2008.366, yMax: 890,   r: 2.8, ty: 400 },
  { title: 'Sapporo',                model: sapporoModel,   obs: sapporoObs,   years: sapporoYears,   yTicks: ticks400,   top: 515, h: 70,   xMin: 2005.767, xMax: 2015.747, yMax: 509,   r: 2.8, ty: 500 },
  { title: 'Senator Beck',           model: senatorModel,   obs: senatorObs,   years: coloradoYears,  yTicks: ticks1000,  top: 614, h: 69,   xMin: 2005.791, xMax: 2015.704, yMax: 1078,  r: 2.8, ty: 599 },
  { title: 'Sodankylä',              model: sodankylaModel, obs: sodankylaObs, years: sodankylaYears, yTicks: ticks200,   top: 712.5, h: 69.2, xMin: 2007.8, xMax: 2014.656,  yMax: 251,   r: 2.8, ty: 698 },
  { title: 'Swamp Angel',            model: swampModel,     obs: swampObs,     years: coloradoYears,  yTicks: ticks1000,  top: 812, h: 68.3, xMin: 2005.791, xMax: 2015.704,  yMax: 1028,  r: 2.8, ty: 797 },
  { title: 'Weissfluhjoch',          model: weissModel,     obs: weissObs,     years: weissYears,     yTicks: ticksWeiss, top: 909.5, h: 69.5, xMin: 1996.72, xMax: 2016.605, yMax: 1430,  r: 2.7, ty: 895 }
];

Chart.defaults.font.family = '"DejaVu Sans", sans-serif';

// draws the left, top and bottom spines of each panel
const spines = {
  id: 'spines',
  beforeDatasetsDraw(chart) {
    const { ctx, chartArea: a } = chart;
    ctx.save();
    ctx.strokeStyle = '#8e8e8e';
    ctx.lineWidth = 1.6;
    ctx.beginPath();
    ctx.moveTo(a.right + 2, a.top);
    ctx.lineTo(a.left, a.top);
    ctx.lineTo(a.left, a.bottom);
    ctx.lineTo(a.right + 2, a.bottom);
    ctx.stroke();
    ctx.restore();
  }
};

const wrap = document.getElementById('wrap');
const PAD_TOP = 6, X_AXIS_H = 14, Y_AXIS_W = 27;

panels.forEach(p => {
  const t = document.createElement('div');
  t.className = 'ttl';
  t.style.top = p.ty + 'px';
  t.textContent = p.title;
  wrap.appendChild(t);

  const cv = document.createElement('canvas');
  const H = Math.round(p.h + PAD_TOP + X_AXIS_H);
  cv.width = 882; cv.height = H;
  cv.style.width = '882px'; cv.style.height = H + 'px';
  cv.style.top = (p.top - PAD_TOP) + 'px';
  wrap.appendChild(cv);

  new Chart(cv, {
    type: 'line',
    data: {
      datasets: [
        { type: 'scatter', data: p.obs, order: 0, showLine: false, clip: 6,
          pointRadius: p.r, pointBackgroundColor: '#d4080c', pointBorderColor: '#3b0505', pointBorderWidth: 0.7 },
        { type: 'line', data: p.model, order: 1, borderColor: '#000', borderWidth: 1.8,
          pointRadius: 0, tension: 0, fill: false, borderJoinStyle: 'round' }
      ]
    },
    options: {
      responsive: false, animation: false, events: [],
      layout: { padding: { top: PAD_TOP, left: 0, right: 0, bottom: 0 } },
      plugins: { legend: { display: false }, tooltip: { enabled: false } },
      scales: {
        x: {
          type: 'linear', min: p.xMin, max: p.xMax,
          afterBuildTicks: s => { s.ticks = p.years.map(v => ({ value: v })); },
          afterFit: s => { s.height = X_AXIS_H; },
          ticks: { callback: v => String(v), font: { size: 6 }, color: '#4a4a4a', maxRotation: 0, autoSkip: false, padding: 1 },
          grid: { drawOnChartArea: false, tickLength: 3, color: '#666' },
          border: { display: false }
        },
        y: {
          min: 0, max: p.yMax,
          afterBuildTicks: s => { s.ticks = p.yTicks.map(v => ({ value: v })); },
          afterFit: s => { s.width = Y_AXIS_W; },
          ticks: { callback: v => String(v), font: { size: 6 }, color: '#4a4a4a', padding: 2 },
          grid: { drawOnChartArea: false, tickLength: 3, color: '#666' },
          border: { display: false }
        }
      }
    },
    plugins: [spines]
  });
});
</script>
</body>
</html>
